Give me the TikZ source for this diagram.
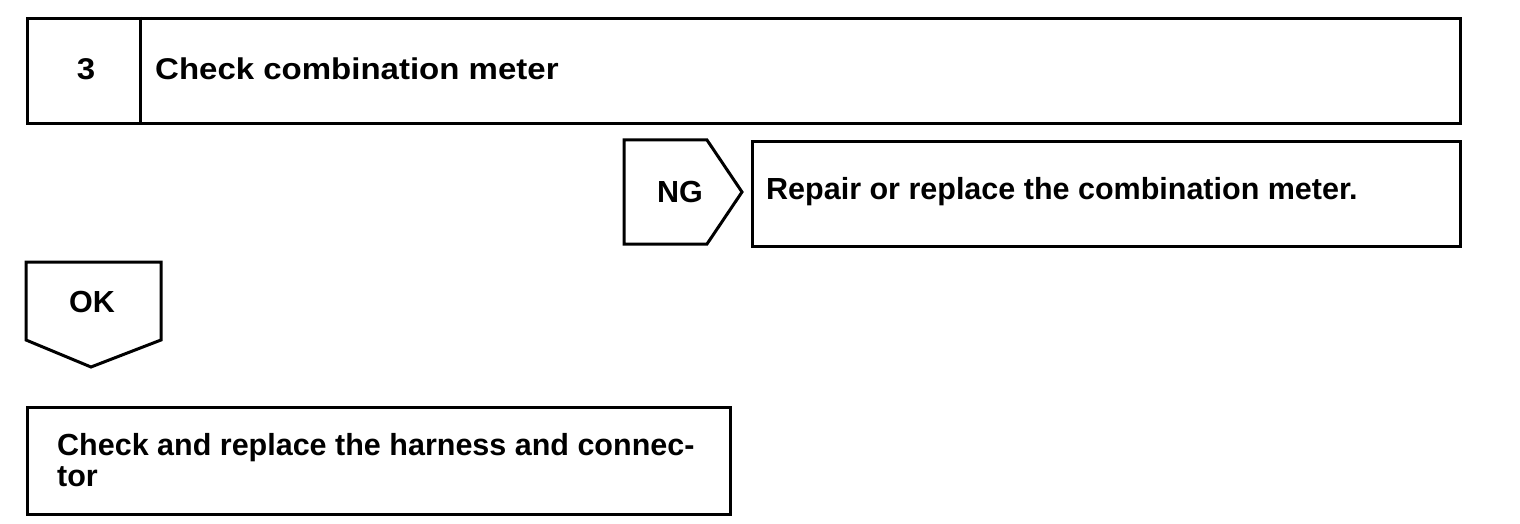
\documentclass[tikz,border=0pt]{standalone}
\usepackage{fontspec}
\setmainfont{Liberation Sans}
\newfontfamily\widesans[FakeStretch=1.1]{Liberation Sans}
\usetikzlibrary{positioning, calc}

\begin{document}
\begin{tikzpicture}[
    x=1pt, y=-1pt,
    box/.style={draw, line width=3pt, rectangle, anchor=north west, inner sep=0pt},
    label/.style={font=\fontsize{30.5}{31}\selectfont\bfseries, inner sep=0pt},
    title/.style={font=\fontsize{30}{31}\selectfont\widesans\bfseries, inner sep=0pt},
    tab/.style={draw, line width=3pt, line join=miter}
]
    \useasboundingbox (0,0) rectangle (1520,524);

    % Nodes
    \node[box, minimum width=1433pt, minimum height=105pt] (stepbox) at (26,17) {};
    \node[title] (stepnum) at (86,69) {3};
    \node[title, anchor=west] (steptitle) at (155,69) {Check combination meter};
    \node[box, minimum width=708pt, minimum height=105pt] (ngbox) at (751,140) {};
    \node[label, anchor=west] (ngtext) at (766,192) {Repair or replace the combination meter.};
    \node[box, minimum width=703pt, minimum height=107pt] (okbox) at (26,406) {};
    \node[label, anchor=north west, align=left] (oktext) at (57,433) {Check and replace the harness and connec-\\tor};

    % Tabs
    \draw[tab] (624,140) -- (707,140) -- (742,192) -- (707,244) -- (624,244) -- cycle;
    \node[label] (ng) at (680,192) {NG};
    \draw[tab] (26,262) -- (161,262) -- (161,340) -- (91,367) -- (26,340) -- cycle;
    \node[label] (ok) at (92,302) {OK};

    % Divider
    \draw[line width=3pt] (stepbox.north west -| 140,0) -- (stepbox.south west -| 140,0);
\end{tikzpicture}
\end{document}
